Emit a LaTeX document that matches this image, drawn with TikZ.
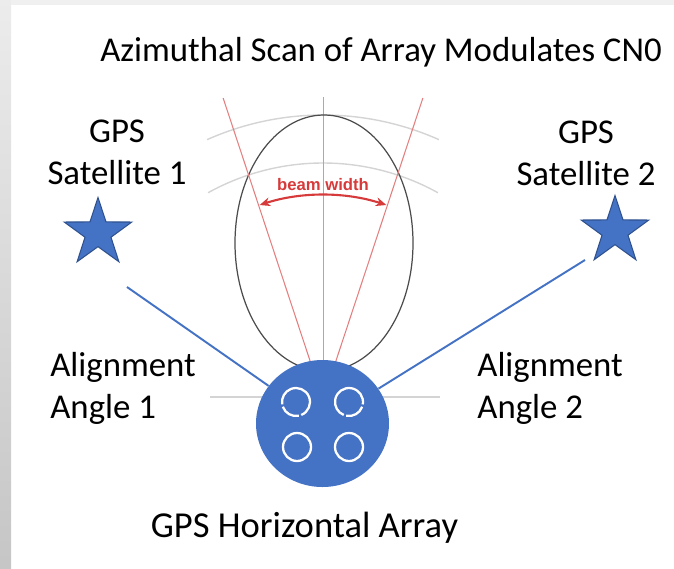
\documentclass[tikz,border=0pt]{standalone}
\usepackage{fontspec}
\setmainfont{Carlito}
\newfontfamily\beamfont{Liberation Sans}
\usetikzlibrary{shapes.geometric,arrows.meta}
\definecolor{gpsblue}{HTML}{4472C4}
\definecolor{stardark}{HTML}{2F528F}
\definecolor{beamred}{HTML}{D63A3A}
\definecolor{gridgray}{HTML}{D4D4D4}
\begin{document}
\begin{tikzpicture}[scale=1,
    lbl/.style={font=\fontsize{19.8}{24}\selectfont, align=center, inner sep=0pt},
    sat/.style={star, star points=5, star point ratio=2.6, fill=gpsblue, draw=stardark,
        line width=0.6pt, minimum size=1.42cm, inner sep=0pt},
    link/.style={gpsblue, line width=1.1pt},
    ring/.style={white, line width=1.3pt}]
    % Rahmen
    \useasboundingbox (0,0) rectangle (13.48,11.36);
    \shade[top color=gray!15, bottom color=gray!45] (0,0) rectangle (0.22,11.36);
    \fill[gray!12] (0.22,11.26) rectangle (13.48,11.36);
    % Beam
    \coordinate (c) at (6.46,3.36);
    \draw[gridgray, line width=0.8pt] (c) ++(61:4.74) arc[start angle=61, end angle=119, radius=4.74];
    \draw[gridgray, line width=0.8pt] (c) ++(66:5.7) arc[start angle=66, end angle=114, radius=5.7];
    \draw[gridgray, line width=0.8pt] (4.2,3.42) -- (8.8,3.42);
    \draw[gridgray!80!black, line width=0.5pt] (c) -- ++(0,6.06);
    \draw[black!70, line width=0.7pt] (6.48,6.50) ellipse (1.78 and 2.56);
    \draw[beamred!65, line width=0.6pt] (c) -- ++(71.7:6.36);
    \draw[beamred!65, line width=0.6pt] (c) -- ++(108.3:6.36);
    \draw[beamred, line width=1.2pt, {Stealth[length=6pt,width=5pt]}-{Stealth[length=6pt,width=5pt]}]
        (c) ++(72:4.1) arc[start angle=72, end angle=108, radius=4.1];
    \node[beamred, font=\beamfont\bfseries\fontsize{9.5}{11}\selectfont] (bw) at (6.46,7.66) {beam width};
    % Satelit
    \node[sat] (s1) at (1.96,6.70) {};
    \node[sat] (s2) at (12.30,6.74) {};
    \node[lbl] (title) at (7.62,10.32) {Azimuthal Scan of Array Modulates CN0};
    \node[lbl] (s1lbl) at (2.34,8.32) {GPS\\Satellite 1};
    \node[lbl] (s2lbl) at (11.72,8.30) {GPS\\Satellite 2};
    \node[lbl, align=left, anchor=west] (a1lbl) at (1.0,3.6) {Alignment\\Angle 1};
    \node[lbl, align=left, anchor=west] (a2lbl) at (9.54,3.6) {Alignment\\Angle 2};
    % Array
    \node[ellipse, fill=gpsblue, minimum width=2.66cm, minimum height=2.54cm, inner sep=0pt] (arr) at (6.45,2.89) {};
    \coordinate (s1end) at (2.54,5.62);
    \coordinate (s2end) at (11.70,6.16);
    \draw[link] (s1end) -- (arr);
    \draw[link] (s2end) -- (arr);
    \draw[ring] (5.92,3.32) ++(-68:0.28) arc[start angle=-68, end angle=190, radius=0.28];
    \draw[ring] (5.92,3.32) ++(200:0.28) arc[start angle=200, end angle=282, radius=0.28];
    \draw[ring] (6.98,3.32) ++(-10:0.28) arc[start angle=-10, end angle=248, radius=0.28];
    \draw[ring] (6.98,3.32) ++(258:0.28) arc[start angle=258, end angle=340, radius=0.28];
    \draw[ring] (5.94,2.42) circle (0.28);
    \draw[ring] (6.98,2.42) circle (0.28);
    \node[lbl, font=\fontsize{20.8}{24}\selectfont] (arrlbl) at (6.09,0.8) {GPS Horizontal Array};
\end{tikzpicture}
\end{document}
